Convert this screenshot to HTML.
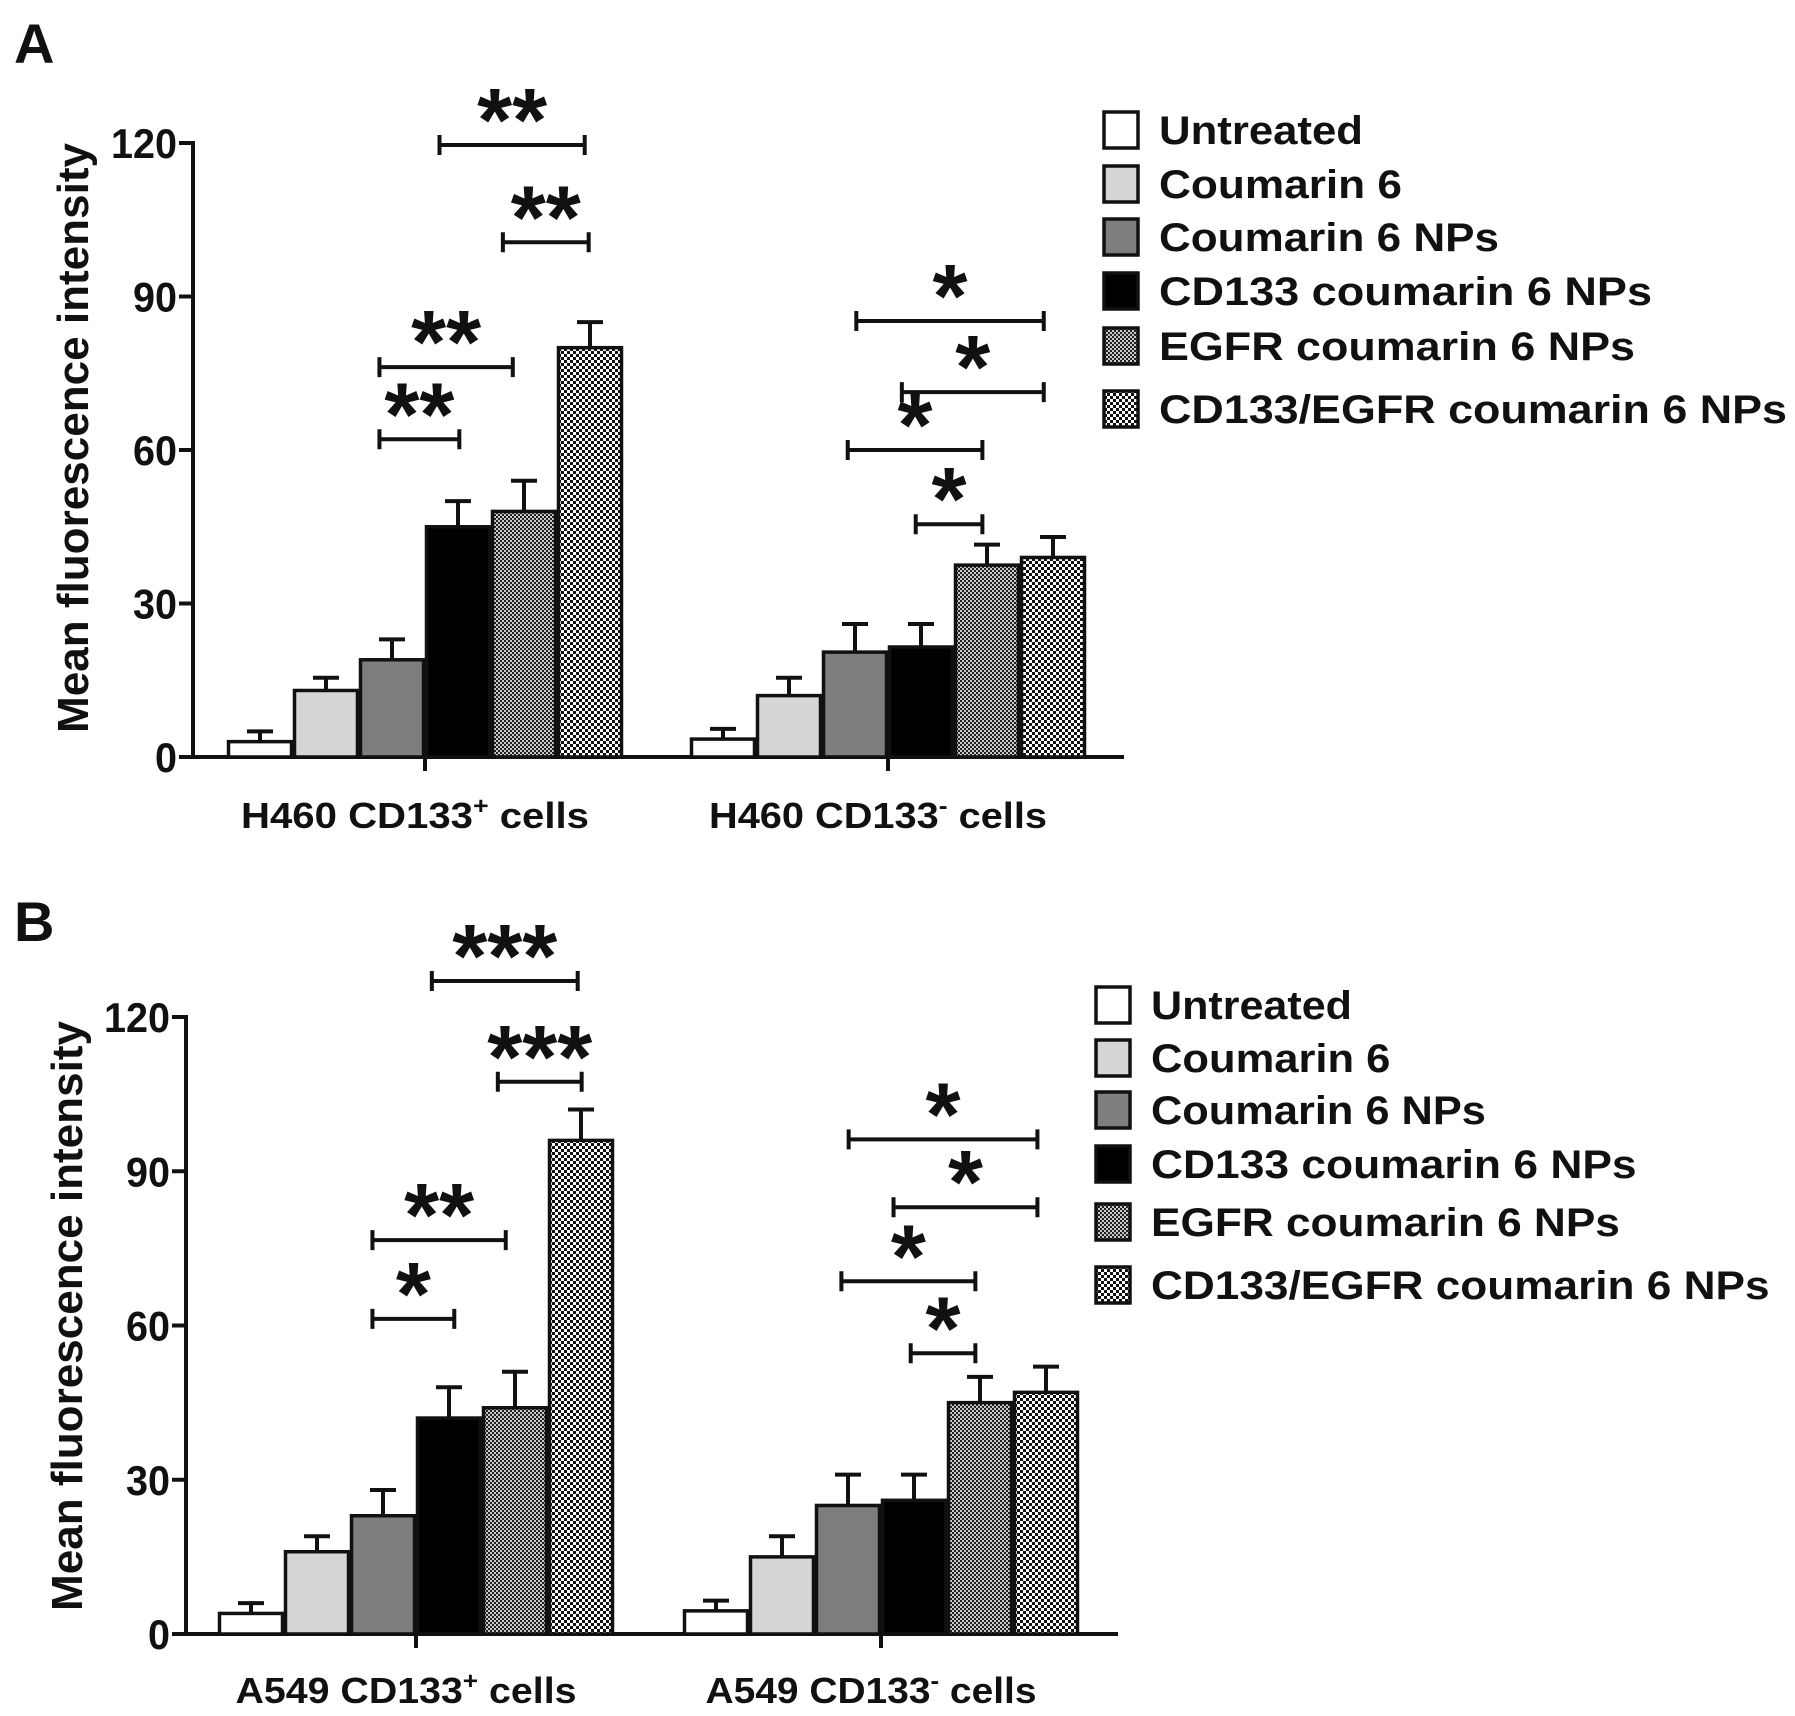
<!DOCTYPE html>
<html><head><meta charset="utf-8"><style>
html,body{margin:0;padding:0;background:#fff;}
svg{display:block;}
text{font-family:"Liberation Sans",Arial,sans-serif;font-weight:bold;fill:#111;}
</style></head><body>
<svg id="chart" width="1795" height="1716" viewBox="0 0 1795 1716" xmlns="http://www.w3.org/2000/svg">
<defs>
<pattern id="pat-egfr" width="4" height="4" patternUnits="userSpaceOnUse">
<rect width="4" height="4" fill="#c8c8c8"/><rect width="2" height="2" fill="#222"/><rect x="2" y="2" width="2" height="2" fill="#222"/>
</pattern>
<pattern id="pat-dual" width="6" height="6" patternUnits="userSpaceOnUse">
<rect width="6" height="6" fill="#fff"/><rect width="3" height="3" fill="#111"/><rect x="3" y="3" width="3" height="3" fill="#111"/>
</pattern>
</defs>
<g id="root"></g>
</svg>
<script>
const seriesNames = ["Untreated","Coumarin 6","Coumarin 6 NPs","CD133 coumarin 6 NPs","EGFR coumarin 6 NPs","CD133/EGFR coumarin 6 NPs"];
const yTicks = [0,30,60,90,120];
const catsA = ["H460","H460"];
const catsB = ["A549","A549"];
const meanA1 = [3,13,19,45,48,80];
const errA1 = [5,15.5,23,50,54,85];
const meanA2 = [3.5,12,20.5,21.5,37.5,39];
const errA2 = [5.5,15.5,26,26,41.5,43];
const meanB1 = [4,16,23,42,44,96];
const errB1 = [6,19,28,48,51,102];
const meanB2 = [4.5,15,25,26,45,47];
const errB2 = [6.5,19,31,31,50,52];
// brackets: group, from (bar units), to (bar units), y value, label
const sigA = [[0,3.22,5.42,119.6,"**"],[0,4.18,5.48,100.6,"**"],[0,2.31,4.33,76.2,"**"],[0,2.31,3.52,62.1,"**"],
              [1,2.52,5.36,85.2,"*"],[1,3.21,5.36,71.3,"*"],[1,2.39,4.43,60,"*"],[1,3.42,4.43,45.5,"*"]];
const sigB = [[0,3.24,5.45,127,"***"],[0,4.24,5.51,107.4,"***"],[0,2.34,4.36,76.6,"**"],[0,2.34,3.58,61.3,"*"],
              [1,2.51,5.37,96.2,"*"],[1,3.19,5.37,83,"*"],[1,2.40,4.43,68.6,"*"],[1,3.45,4.43,54.6,"*"]];
const fills = ["#ffffff","#d6d6d6","#7e7e7e","#000000","url(#pat-egfr)","url(#pat-dual)"];
const legendWidths = [204,243,340,493,476,628];
const NS = "http://www.w3.org/2000/svg";
const root = document.getElementById('root');
function mk(tag, attrs, parent, txt){const e=document.createElementNS(NS,tag);for(const k in attrs)e.setAttribute(k,attrs[k]);if(txt!==undefined)e.textContent=txt;(parent||root).appendChild(e);return e;}

function panel(cfg){
  const g = mk('g',{});
  
  
  const y = v => cfg.y0 - v*(cfg.y0-cfg.y120)/120;
  const L = mk('text',{x:cfg.letterX,y:cfg.letterY,'font-size':56},g,cfg.letter);
  
  
  const ya = mk('line',{x1:cfg.ax,y1:cfg.y120-2,x2:cfg.ax,y2:cfg.y0+2,stroke:'#111','stroke-width':4},g);
  
  
  const xa = mk('line',{x1:cfg.ax-14,y1:cfg.y0,x2:cfg.axEnd,y2:cfg.y0,stroke:'#111','stroke-width':4},g);
  
  
  yTicks.forEach(t=>{
    mk('line',{x1:cfg.ax-14,y1:y(t),x2:cfg.ax,y2:y(t),stroke:'#111','stroke-width':4},g);
    const s=String(t);
    const tl = mk('text',{x:cfg.ax-16,y:y(t)+15,'font-size':42,'text-anchor':'end',textLength:s.length*22,lengthAdjust:'spacingAndGlyphs'},g,s);
    
    
  });
  const yt = mk('text',{x:0,y:0,'font-size':44,'text-anchor':'middle',textLength:590,lengthAdjust:'spacingAndGlyphs',transform:`translate(${cfg.ylabX},${cfg.ylabY}) rotate(-90)`},g,'Mean fluorescence intensity');
  
  
  const bw = 66;
  cfg.groups.forEach((gr,gi)=>{
    const gs = cfg.gStart[gi];
    mk('line',{x1:gs+3*bw,y1:cfg.y0,x2:gs+3*bw,y2:cfg.y0+14,stroke:'#111','stroke-width':4},g);
    gr.mean.forEach((v,i)=>{
      const x = gs+i*bw;
      const e = gr.err[i];
      const el = mk('line',{x1:x+bw/2,y1:y(v),x2:x+bw/2,y2:y(e),stroke:'#111','stroke-width':4},g);
      
      
      mk('line',{x1:x+bw/2-13,y1:y(e),x2:x+bw/2+13,y2:y(e),stroke:'#111','stroke-width':4},g);
      const r = mk('rect',{x:x+1.5,y:y(v),width:bw-3,height:y(0)-y(v),fill:fills[i],stroke:'#111','stroke-width':3.5},g);
      
      
    });
    const cl = mk('text',{x:gs+3*bw-10,y:cfg.catY,'font-size':36,'text-anchor':'middle',textLength:cfg.catW[gi],lengthAdjust:'spacingAndGlyphs'},g);
    
    
    mk('tspan',{},cl,gr.cat+' CD133');
    mk('tspan',{dy:-14,'font-size':24},cl,gi===0?'+':'-');
    mk('tspan',{dy:14},cl,' cells');
  });
  cfg.sig.forEach(s=>{
    const gs = cfg.gStart[s[0]];
    const x1 = gs+s[1]*bw, x2 = gs+s[2]*bw, yy = y(s[3]);
    const b = mk('path',{d:`M${x1},${yy-10}V${yy+10}M${x1},${yy}H${x2}M${x2},${yy-10}V${yy+10}`,stroke:'#111','stroke-width':4,fill:'none'},g);
    
    
    const st = mk('text',{x:(x1+x2)/2,y:yy+6,'font-size':90,'text-anchor':'middle'},g,s[4]);
    
    
  });
  seriesNames.forEach((n,i)=>{
    const ly = cfg.legY[i];
    const le = mk('g',{},g);
    
    
    mk('rect',{x:cfg.legX,y:ly-18,width:34,height:36,fill:fills[i],stroke:'#111','stroke-width':3.5},le);
    mk('text',{x:cfg.legX+55,y:ly+14,'font-size':40,textLength:legendWidths[i]*cfg.legScale,lengthAdjust:'spacingAndGlyphs'},le,n);
  });
}
panel({letter:'A',letterX:14,letterY:63,ax:193,axEnd:1124,y0:757,y120:143,ylabX:88,ylabY:438,
  gStart:[227,690],catY:828,catW:[348,338],
  groups:[{cat:catsA[0],mean:meanA1,err:errA1},{cat:catsA[1],mean:meanA2,err:errA2}],
  sig:sigA,legX:1104,legY:[130,184,237,291,346,409],legScale:1});
panel({letter:'B',letterX:14,letterY:941,ax:186,axEnd:1118,y0:1634,y120:1017,ylabX:82,ylabY:1316,
  gStart:[218,683],catY:1703,catW:[341,331],
  groups:[{cat:catsB[0],mean:meanB1,err:errB1},{cat:catsB[1],mean:meanB2,err:errB2}],
  sig:sigB,legX:1096,legY:[1005,1058,1110,1164,1222,1285],legScale:0.985});
</script>
</body></html>
